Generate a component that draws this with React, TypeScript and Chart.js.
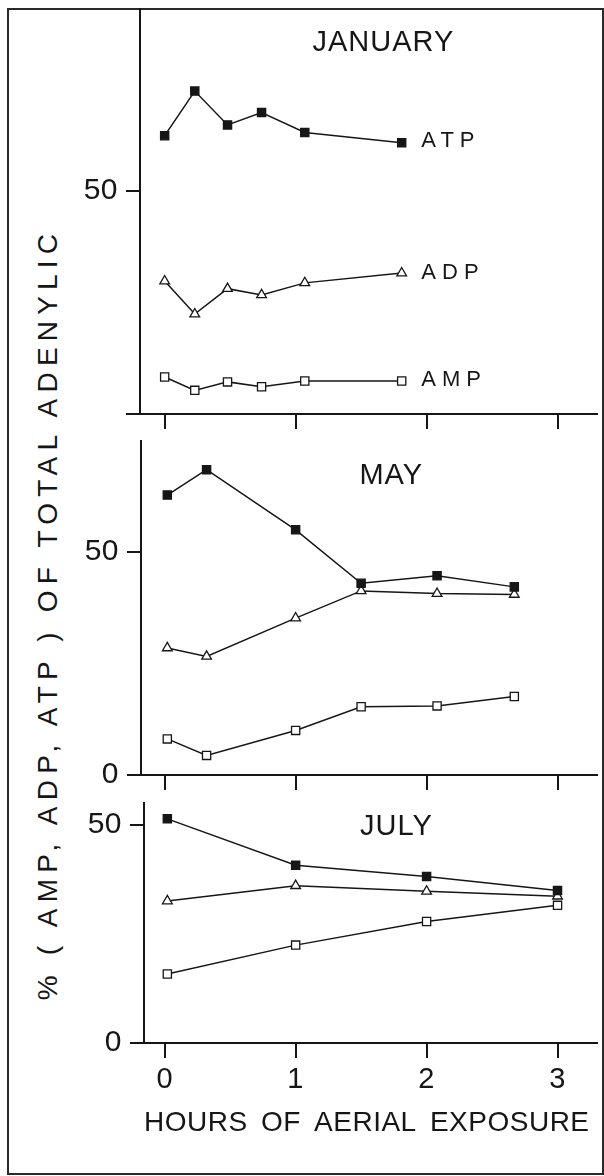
import React, { useEffect, useRef } from "react";
import { Chart, registerables } from "chart.js";

Chart.register(...registerables);

const FONT = "'Liberation Sans', Arial, Helvetica, sans-serif";
const INK = "#161616";

// ---- data ----
const janHours = [0, 0.23, 0.48, 0.74, 1.07, 1.81];
const janATP = [62.4, 72.4, 64.8, 67.6, 63.1, 60.8];
const janADP = [29.8, 22.4, 28.1, 26.7, 29.4, 31.6];
const janAMP = [8.3, 5.3, 7.2, 6.1, 7.4, 7.4];

const mayHours = [0.02, 0.32, 1.0, 1.5, 2.08, 2.67];
const mayATP = [62.8, 68.5, 55.0, 43.0, 44.7, 42.2];
const mayADP = [28.5, 26.6, 35.2, 41.3, 40.7, 40.5];
const mayAMP = [8.1, 4.4, 10.0, 15.3, 15.5, 17.6];

const julHours = [0.02, 1.0, 2.0, 3.0];
const julATP = [51.3, 40.7, 38.1, 34.9];
const julADP = [32.5, 36.0, 34.7, 33.6];
const julAMP = [15.8, 22.4, 27.8, 31.5];

const hourTicks = [0, 1, 2, 3];
const percentTicks = [0, 50];

const yTitle = "% ( AMP, ADP, ATP ) OF TOTAL ADENYLIC";
const xTitle = "HOURS OF AERIAL EXPOSURE";

// ---- layout ----
const X0_PX = 165; // pixel of hour 0
const PX_PER_HOUR = 132.7;
const PLOT_RIGHT = 603;

const panelTextPlugin = {
  id: "panelText",
  beforeDraw(chart: any) {
    const c = chart.ctx as any;
    c.letterSpacing = "0.5px";
    c.wordSpacing = "5px";
  },
  afterDraw(chart: any, _args: any, opts: any) {
    const { ctx } = chart;
    const xs = chart.scales.x;
    const ys = chart.scales.y;
    for (const it of opts.items || []) {
      ctx.save();
      ctx.font = `${it.size}px ${FONT}`;
      (ctx as any).letterSpacing = `${it.spacing}px`;
      (ctx as any).wordSpacing = "0px";
      ctx.fillStyle = INK;
      ctx.textAlign = it.align;
      ctx.textBaseline = "middle";
      ctx.fillText(it.text, xs.getPixelForValue(it.x), ys.getPixelForValue(it.y));
      ctx.restore();
    }
  },
};

function series(label: string, hours: number[], values: number[], shape: string, fill: string) {
  return {
    label,
    data: hours.map((h, i) => ({ x: h, y: values[i] })),
    borderColor: INK,
    borderWidth: 1.5,
    pointStyle: shape,
    pointRadius: shape === "triangle" ? 5.6 : 5.8,
    pointBackgroundColor: fill,
    pointBorderColor: INK,
    pointBorderWidth: 1.3,
    tension: 0,
    fill: false,
  };
}

type Panel = {
  key: string;
  top: number;
  height: number;
  axisLeft: number;
  plotTop: number;
  plotBottom: number;
  yMax: number;
  showZero: boolean;
  showHours: boolean;
  hours: number[];
  atp: number[];
  adp: number[];
  amp: number[];
  texts: any[];
};

const panels: Panel[] = [
  {
    key: "jan",
    top: 0,
    height: 434,
    axisLeft: 140,
    plotTop: 9,
    plotBottom: 414,
    yMax: 90.8,
    showZero: false,
    showHours: false,
    hours: janHours,
    atp: janATP,
    adp: janADP,
    amp: janAMP,
    texts: [
      { text: "JANUARY", x: 1.67, y: 83.1, size: 29, spacing: 1, align: "center" },
      { text: "ATP", x: 1.96, y: 61.2, size: 22, spacing: 6, align: "left" },
      { text: "ADP", x: 1.96, y: 31.6, size: 22, spacing: 6, align: "left" },
      { text: "AMP", x: 1.96, y: 7.6, size: 22, spacing: 6, align: "left" },
    ],
  },
  {
    key: "may",
    top: 434,
    height: 362,
    axisLeft: 141,
    plotTop: 438,
    plotBottom: 775,
    yMax: 74.9,
    showZero: true,
    showHours: false,
    hours: mayHours,
    atp: mayATP,
    adp: mayADP,
    amp: mayAMP,
    texts: [{ text: "MAY", x: 1.73, y: 67.1, size: 29, spacing: 1, align: "center" }],
  },
  {
    key: "jul",
    top: 796,
    height: 380,
    axisLeft: 144,
    plotTop: 798,
    plotBottom: 1043,
    yMax: 54.9,
    showZero: true,
    showHours: true,
    hours: julHours,
    atp: julATP,
    adp: julADP,
    amp: julAMP,
    texts: [{ text: "JULY", x: 1.77, y: 49.4, size: 29, spacing: 1, align: "center" }],
  },
];

function buildConfig(p: Panel): any {
  const xMin = (p.axisLeft - X0_PX) / PX_PER_HOUR;
  const xMax = (PLOT_RIGHT - X0_PX) / PX_PER_HOUR;
  const xAxisHeight = p.top + p.height - p.plotBottom;
  return {
    type: "line",
    data: {
      datasets: [
        series("ATP", p.hours, p.atp, "rect", INK),
        series("ADP", p.hours, p.adp, "triangle", "#ffffff"),
        series("AMP", p.hours, p.amp, "rect", "#ffffff"),
      ],
    },
    options: {
      animation: false,
      responsive: false,
      devicePixelRatio: 1,
      events: [],
      layout: {
        padding: { left: 0, right: 604 - PLOT_RIGHT, top: p.plotTop - p.top, bottom: 0 },
      },
      plugins: {
        legend: { display: false },
        tooltip: { enabled: false },
        title: { display: false },
        panelText: { items: p.texts },
      },
      scales: {
        x: {
          type: "linear",
          min: xMin,
          max: xMax,
          afterBuildTicks: (s: any) => {
            s.ticks = hourTicks.map((v) => ({ value: v }));
          },
          afterFit: (s: any) => {
            s.height = xAxisHeight;
            s.paddingLeft = 0;
            s.paddingRight = 0;
            s.paddingTop = 0;
            s.paddingBottom = 0;
          },
          grid: {
            display: true,
            drawOnChartArea: false,
            drawTicks: true,
            tickLength: 15,
            color: INK,
            lineWidth: 2,
          },
          border: { display: true, color: INK, width: 2 },
          ticks: {
            display: p.showHours,
            color: INK,
            padding: 5,
            maxRotation: 0,
            font: { family: FONT, size: 29 },
            callback: (v: any) => String(v),
          },
          title: {
            display: p.showHours,
            text: xTitle,
            align: "start",
            color: INK,
            font: { family: FONT, size: 28, lineHeight: 1.2 },
            padding: { top: 0, bottom: 36 },
          },
        },
        y: {
          type: "linear",
          min: 0,
          max: p.yMax,
          afterBuildTicks: (s: any) => {
            s.ticks = percentTicks.map((v) => ({ value: v }));
          },
          afterFit: (s: any) => {
            s.width = p.axisLeft;
            s.paddingLeft = 0;
            s.paddingRight = 0;
            s.paddingTop = 0;
            s.paddingBottom = 0;
          },
          grid: {
            display: true,
            drawOnChartArea: false,
            drawTicks: true,
            tickLength: 14,
            color: INK,
            lineWidth: 2,
          },
          border: { display: true, color: INK, width: 2 },
          ticks: {
            color: INK,
            padding: 8,
            font: { family: FONT, size: 30 },
            callback: (v: any) => (v === 0 && !p.showZero ? "" : String(v)),
          },
        },
      },
    },
    plugins: [panelTextPlugin],
  };
}

function PanelChart({ p }: { p: Panel }) {
  const ref = useRef<HTMLCanvasElement>(null);
  useEffect(() => {
    if (!ref.current) return;
    const chart = new Chart(ref.current, buildConfig(p));
    return () => chart.destroy();
  }, [p]);
  return (
    <canvas
      ref={ref}
      width={604}
      height={p.height}
      style={{
        position: "absolute",
        left: 0,
        top: p.top,
        width: 604,
        height: p.height,
        display: "block",
      }}
    />
  );
}

export default function App() {
  return (
    <div
      style={{
        position: "absolute",
        left: 0,
        top: 0,
        width: 604,
        height: 1176,
        overflow: "hidden",
        background: "#ffffff",
      }}
    >
      <div
        style={{
          position: "absolute",
          left: 7,
          top: 8,
          width: 597,
          height: 1167,
          border: "2px solid #2a2a2a",
          boxSizing: "border-box",
        }}
      />
      <div
        style={{
          position: "absolute",
          left: 48 - 450,
          top: 614 - 20,
          width: 900,
          height: 40,
          lineHeight: "40px",
          textAlign: "center",
          transform: "rotate(-90deg)",
          transformOrigin: "50% 50%",
          fontFamily: FONT,
          fontSize: 28,
          letterSpacing: "6.2px",
          color: INK,
          whiteSpace: "pre",
        }}
      >
        {yTitle}
      </div>
      {panels.map((p) => (
        <PanelChart key={p.key} p={p} />
      ))}
    </div>
  );
}
